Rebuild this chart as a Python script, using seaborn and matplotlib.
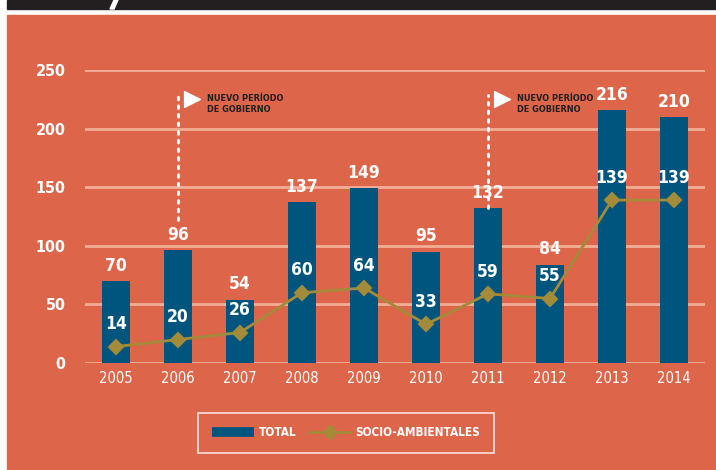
import pandas as pd
import seaborn as sns
import matplotlib.pyplot as plt
from matplotlib.patches import Rectangle, Polygon
from matplotlib.lines import Line2D

anios = ['2005', '2006', '2007', '2008', '2009', '2010', '2011', '2012', '2013', '2014']
total = [70, 96, 54, 137, 149, 95, 132, 84, 216, 210]
socio = [14, 20, 26, 60, 64, 33, 59, 55, 139, 139]
yticks = [0, 50, 100, 150, 200, 250]
periodos = ['2006', '2011']
periodo_tope = [122, 132]

naranja = '#DD654A'
azul = '#00557F'
oliva = '#A38B3A'
grid_col = '#F2AE96'

sns.set_style('white')
plt.rcParams['font.family'] = ['DejaVu Sans']
plt.rcParams['font.stretch'] = 'condensed'

df = pd.DataFrame({'anio': anios, 'total': total, 'socio': socio})

fig = plt.figure(figsize=(7.16, 4.70), dpi=100, facecolor='white')
# fondo naranja y franja negra
fig.patches.append(Rectangle((7 / 716, 0), 1, 455 / 470, transform=fig.transFigure,
                             color=naranja, zorder=-5))
fig.patches.append(Rectangle((7 / 716, 461 / 470), 1, 9 / 470, transform=fig.transFigure,
                             color='#231F20', zorder=-5))
fig.patches.append(Polygon([(110 / 716, 461 / 470), (114 / 716, 461 / 470),
                            (118 / 716, 1), (114 / 716, 1)], closed=True,
                           transform=fig.transFigure, color='white', zorder=-4))

ax = fig.add_axes([85 / 716, 107 / 470, 620 / 716, 293 / 470])
ax.set_zorder(2)
ax.set_facecolor('none')

sns.barplot(data=df, x='anio', y='total', color=azul, width=0.44, saturation=1,
            edgecolor='none', linewidth=0, ax=ax, zorder=3)
sns.pointplot(data=df, x='anio', y='socio', color=oliva, markers='D', ax=ax,
              markersize=7, linewidth=2)
for c in ax.collections + ax.lines:
    c.set_zorder(4)

ax.set_ylim(0, 250)
ax.set_xlim(-0.5, 9.5)
ax.set_yticks(yticks)
ax.yaxis.grid(True, color=grid_col, linewidth=2, zorder=1)
ax.set_axisbelow(True)
for s in ax.spines.values():
    s.set_visible(False)
ax.tick_params(length=0)
ax.tick_params(axis='y', pad=14, labelsize=11.5, labelcolor='white')
ax.tick_params(axis='x', pad=6, labelsize=10.5, labelcolor='white')
for t in ax.get_yticklabels():
    t.set_fontweight('bold')
ax.set_xlabel('')
ax.set_ylabel('')

for i, (t, s) in enumerate(zip(total, socio)):
    ax.annotate(str(t), (i, t), xytext=(0, 11), textcoords='offset points',
                ha='center', va='center', color='white', fontsize=12.5, fontweight='bold',
                zorder=6)
    ax.annotate(str(s), (i, s), xytext=(0, 16), textcoords='offset points',
                ha='center', va='center', color='white', fontsize=12.5, fontweight='bold',
                zorder=6)

# marcas de nuevo periodo de gobierno
for p, tope in zip(periodos, periodo_tope):
    x = anios.index(p)
    ax.plot([x, x], [tope, 229], color='white', linestyle=(0, (1, 2.1)),
            linewidth=2, zorder=7, dash_capstyle='round')
    ax.scatter([x + 0.22], [225], marker='>', s=130, color='white', zorder=7,
               clip_on=False)
    ax.text(x + 0.46, 229.5, 'NUEVO PERÍODO\nDE GOBIERNO', ha='left', va='top',
            color='#231F20', fontsize=6.6, fontweight='bold', linespacing=1.35,
            transform=ax.transData)

handles = [Line2D([0], [0], color=azul, linewidth=7, solid_capstyle='butt'),
           Line2D([0], [0], color=oliva, linewidth=2, marker='D', markersize=7)]
leg = fig.legend(handles, ['TOTAL', 'SOCIO-AMBIENTALES'], loc='center',
                 bbox_to_anchor=(346 / 716, 1 - 433 / 470), ncol=2, frameon=True,
                 fancybox=False, handlelength=3.6, handletextpad=0.4,
                 columnspacing=1.0, borderpad=1.15,
                 prop={'weight': 'bold', 'size': 8.5})
leg.get_frame().set_facecolor('none')
leg.get_frame().set_edgecolor('white')
leg.get_frame().set_linewidth(1.2)
for t in leg.get_texts():
    t.set_color('white')

fig.savefig('out.png', dpi=100, facecolor='white')
